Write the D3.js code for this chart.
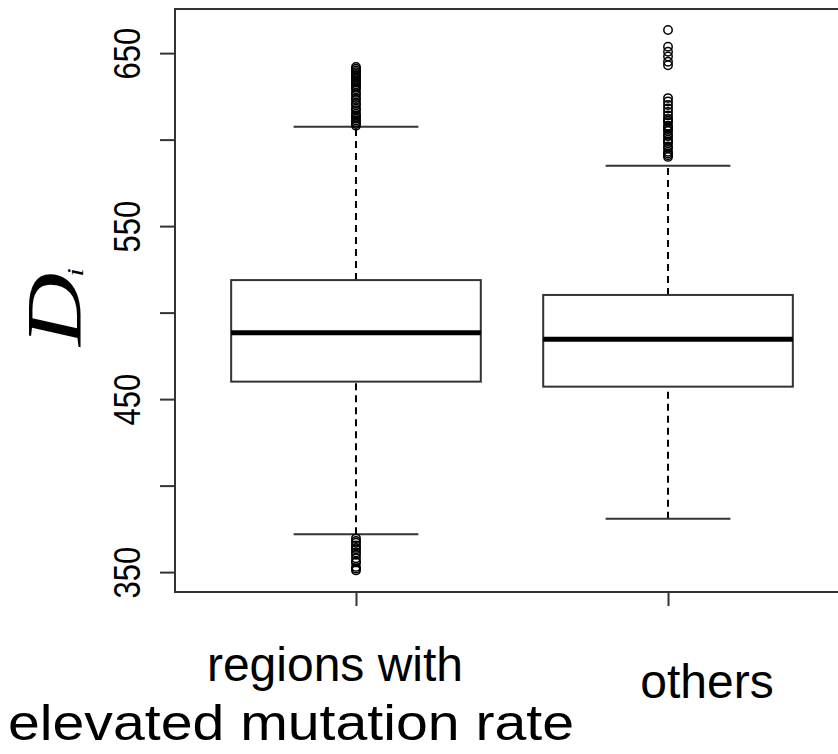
<!DOCTYPE html>
<html>
<head>
<meta charset="utf-8">
<script src="https://cdn.jsdelivr.net/npm/d3@7"></script>
<style>
  html, body { margin: 0; padding: 0; background: #fff; }
  svg { display: block; }
  .tick-label { font-family: "Liberation Sans", Arial, sans-serif; font-size: 31px; fill: #000; }
  .cat-label { font-family: "Liberation Sans", Arial, sans-serif; font-size: 48px; fill: #000; }
</style>
</head>
<body>
<svg id="chart" width="838" height="754"></svg>
<script>
const W = 838, H = 754;

const groups = ["regions with elevated mutation rate", "others"];
// five-number summaries
const lowWhisker = [371.9, 380.9];
const q1 = [460.1, 457.2];
const median = [488.4, 484.6];
const q3 = [518.8, 510.2];
const highWhisker = [607.5, 584.9];
const outliersA = [642, 641, 640, 639, 638, 637, 636, 635, 634, 633, 632, 631, 630, 629, 627, 626,
  624, 623, 621, 620, 618, 617, 615, 614, 613, 612, 611, 610, 609, 608,
  369.5, 368, 367, 365.4, 364, 363, 361.4, 360, 358, 356, 355.6, 353, 352, 351];
const outliersB = [663.4, 653.7, 650.8, 648, 645, 643,
  624, 622, 620, 618, 616, 614, 612, 611, 610, 608, 607, 606, 605, 603, 602, 600,
  599, 598, 596, 595, 593, 592, 591, 590];
const outliers = [outliersA, outliersB];
const yTicks = [350, 400, 450, 500, 550, 600, 650];
const yLabelled = [350, 450, 550, 650];

const PLOT = { left: 175, top: 9, right: 849, bottom: 592 };
const INK = "#333";

const x = d3.scaleLinear().domain([0.42, 2.58]).range([PLOT.left, PLOT.right]);
const y = d3.scaleLinear().domain([338.5, 675.5]).range([PLOT.bottom, PLOT.top]);
const boxW = (x(2) - x(1)) * 0.8;
const capW = boxW * 0.5;

const svg = d3.select("#chart");

// frame
svg.append("rect")
  .attr("x", PLOT.left).attr("y", PLOT.top)
  .attr("width", PLOT.right - PLOT.left).attr("height", PLOT.bottom - PLOT.top)
  .attr("fill", "none").attr("stroke", INK).attr("stroke-width", 2);

// y axis
const yAxis = svg.append("g")
  .attr("transform", `translate(${PLOT.left},0)`)
  .call(d3.axisLeft(y).tickValues(yTicks).tickSize(15).tickFormat(d => yLabelled.includes(d) ? d : ""));
yAxis.select(".domain").remove();
yAxis.selectAll(".tick line").attr("stroke", INK).attr("stroke-width", 2);
yAxis.selectAll(".tick text")
  .attr("class", "tick-label")
  .attr("x", null).attr("dy", null)
  .attr("text-anchor", "middle")
  .attr("transform", "translate(-35,0) rotate(-90) scale(1,1.2)");

// x axis ticks
const xAxis = svg.append("g")
  .attr("transform", `translate(0,${PLOT.bottom})`)
  .call(d3.axisBottom(x).tickValues([1, 2]).tickSize(14).tickFormat(""));
xAxis.select(".domain").remove();
xAxis.selectAll(".tick line").attr("stroke", INK).attr("stroke-width", 2);

// boxes
groups.forEach((g, i) => {
  const cx = x(i + 1);
  const b = svg.append("g");
  // whiskers
  [[lowWhisker[i], q1[i]], [q3[i], highWhisker[i]]].forEach(([a, c]) => {
    b.append("line")
      .attr("x1", cx).attr("x2", cx)
      .attr("y1", y(a)).attr("y2", y(c))
      .attr("stroke", "#000").attr("stroke-width", 2)
      .attr("stroke-dasharray", "7,5");
  });
  [lowWhisker[i], highWhisker[i]].forEach(v => {
    b.append("line")
      .attr("x1", cx - capW / 2).attr("x2", cx + capW / 2)
      .attr("y1", y(v)).attr("y2", y(v))
      .attr("stroke", INK).attr("stroke-width", 2);
  });
  b.append("rect")
    .attr("x", cx - boxW / 2).attr("y", y(q3[i]))
    .attr("width", boxW).attr("height", y(q1[i]) - y(q3[i]))
    .attr("fill", "#fff").attr("stroke", INK).attr("stroke-width", 2);
  b.append("line")
    .attr("x1", cx - boxW / 2).attr("x2", cx + boxW / 2)
    .attr("y1", y(median[i])).attr("y2", y(median[i]))
    .attr("stroke", "#000").attr("stroke-width", 5);
  b.selectAll("circle").data(outliers[i]).join("circle")
    .attr("cx", cx).attr("cy", d => y(d)).attr("r", 4.2)
    .attr("fill", "none").attr("stroke", "#000").attr("stroke-width", 1.5);
});

// category labels (placed by hand in the original)
svg.append("text").attr("class", "cat-label")
  .attr("x", 335).attr("y", 681).attr("text-anchor", "middle").text("regions with");
svg.append("text").attr("class", "cat-label")
  .style("font-size", "50px")
  .attr("x", 291).attr("y", 740).attr("text-anchor", "middle")
  .attr("textLength", 566).attr("lengthAdjust", "spacingAndGlyphs")
  .text("elevated mutation rate");
svg.append("text").attr("class", "cat-label")
  .attr("x", 707).attr("y", 698).attr("text-anchor", "middle").text("others");

// y label: italic D with subscript i
const yl = svg.append("text")
  .attr("transform", "translate(80,346) rotate(-90) scale(1.3,1)")
  .attr("text-anchor", "start")
  .style("font-family", "'Liberation Serif', 'Times New Roman', serif")
  .style("font-style", "italic");
yl.append("tspan").style("font-size", "78px").text("D");
yl.append("tspan").style("font-size", "24px").attr("dy", 3).attr("dx", -3).text("i");
</script>
</body>
</html>
